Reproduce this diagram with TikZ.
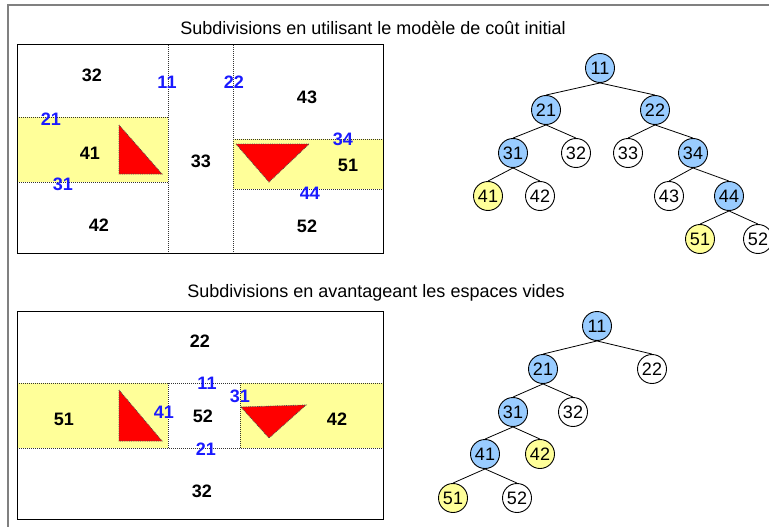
\documentclass[tikz,border=0pt]{standalone}
\usepackage{fontspec}
\setmainfont{Liberation Sans}
\usepackage{xcolor}
\usetikzlibrary{positioning}

\definecolor{cellblue}{HTML}{99CCFF}
\definecolor{cellyellow}{HTML}{FFFF99}
\definecolor{cutblue}{HTML}{1A1AFF}

\begin{document}
\begin{tikzpicture}[
    x=1pt, y=-1pt,
    tnode/.style={draw, circle, line width=0.9pt, minimum size=29pt, inner sep=0pt, font=\fontsize{18}{18}\selectfont},
    split/.style={tnode, fill=cellblue},
    full/.style={tnode, fill=cellyellow},
    empty/.style={tnode, fill=white},
    edge/.style={line width=0.8pt},
    cut/.style={draw=black!80, densely dotted, line width=1pt},
    frame/.style={draw=black, line width=1pt},
    zone/.style={fill=cellyellow},
    obj/.style={fill=red, draw=black!70, densely dotted, line width=0.8pt},
    num/.style={font=\fontsize{18}{18}\selectfont\bfseries},
    cutnum/.style={num, text=cutblue},
    ttl/.style={font=\fontsize{18}{18}\selectfont}
]
\useasboundingbox (0,0) rectangle (769,527);

% --- window border ---
\draw[draw=black!50, line width=1.5pt] (769,5) -- (8,5) -- (8,527);

% === Top: initial cost model ===
\node[ttl] (titleA) at (373,28) {Subdivisions en utilisant le modèle de coût initial};

% --- space ---
\fill[zone] (17,117) rectangle (168,182);
\fill[zone] (233,139) rectangle (383,189);
\draw[cut] (168,45) -- (168,253);
\draw[cut] (233,45) -- (233,253);
\draw[cut] (17,117) -- (168,117);
\draw[cut] (17,182) -- (168,182);
\draw[cut] (233,139) -- (383,139);
\draw[cut] (233,189) -- (383,189);
\draw[frame] (17,45) rectangle (383,253);
\draw[obj] (119,125) -- (119,174) -- (162,174) -- cycle;
\draw[obj] (236,144) -- (309,144) -- (269,182) -- cycle;

\node[num] (a32) at (92,75)   {32};
\node[num] (a41) at (90,153)  {41};
\node[num] (a42) at (99,225)  {42};
\node[num] (a33) at (201,161) {33};
\node[num] (a43) at (307,97)  {43};
\node[num] (a51) at (348,165) {51};
\node[num] (a52) at (307,226) {52};

\node[cutnum] (c11) at (167,82)  {11};
\node[cutnum] (c22) at (234,82)  {22};
\node[cutnum] (c21) at (51,119)  {21};
\node[cutnum] (c31) at (63,184)  {31};
\node[cutnum] (c34) at (343,139) {34};
\node[cutnum] (c44) at (310,193) {44};

% --- tree ---
\node[split] (t11) at (600,68)  {11};
\node[split] (t21) at (546,110) {21};
\node[split] (t22) at (655,110) {22};
\node[split] (t31) at (513,153) {31};
\node[empty] (t32) at (576,153) {32};
\node[empty] (t33) at (628,153) {33};
\node[split] (t34) at (693,153) {34};
\node[full]  (t41) at (488,196) {41};
\node[empty] (t42) at (540,196) {42};
\node[empty] (t43) at (669,196) {43};
\node[split] (t44) at (729,196) {44};
\node[full]  (t51) at (700,239) {51};
\node[empty] (t52) at (758,239) {52};

\foreach \p/\c in {11/21, 11/22, 21/31, 21/32, 22/33, 22/34, 31/41, 31/42, 34/43, 34/44, 44/51, 44/52}
    \draw[edge] (t\p.south) -- (t\c.north);

% === Bottom: favouring empty space ===
\node[ttl] (titleB) at (376,293) {Subdivisions en avantageant les espaces vides};

% --- space ---
\fill[zone] (17,383) rectangle (383,448);
\fill[white] (168,383) rectangle (240,448);
\draw[cut] (17,383) -- (383,383);
\draw[cut] (17,448) -- (383,448);
\draw[cut] (168,383) -- (168,448);
\draw[cut] (240,383) -- (240,448);
\draw[frame] (17,311) rectangle (383,519);
\draw[obj] (119,390) -- (119,441) -- (162,441) -- cycle;
\draw[obj] (241,407) -- (306,405) -- (269,438) -- cycle;

\node[num] (b22) at (200,341) {22};
\node[num] (b51) at (64,419)  {51};
\node[num] (b52) at (203,416) {52};
\node[num] (b42) at (337,419) {42};
\node[num] (b32) at (202,491) {32};

\node[cutnum] (d11) at (207,383) {11};
\node[cutnum] (d31) at (240,396) {31};
\node[cutnum] (d41) at (164,412) {41};
\node[cutnum] (d21) at (206,449) {21};

% --- tree ---
\node[split] (u11) at (597,326) {11};
\node[split] (u21) at (543,369) {21};
\node[empty] (u22) at (652,369) {22};
\node[split] (u31) at (513,412) {31};
\node[empty] (u32) at (573,412) {32};
\node[split] (u41) at (485,454) {41};
\node[full]  (u42) at (540,454) {42};
\node[full]  (u51) at (453,498) {51};
\node[empty] (u52) at (517,498) {52};

\foreach \p/\c in {11/21, 11/22, 21/31, 21/32, 31/41, 31/42, 41/51, 41/52}
    \draw[edge] (u\p.south) -- (u\c.north);
\end{tikzpicture}
\end{document}
